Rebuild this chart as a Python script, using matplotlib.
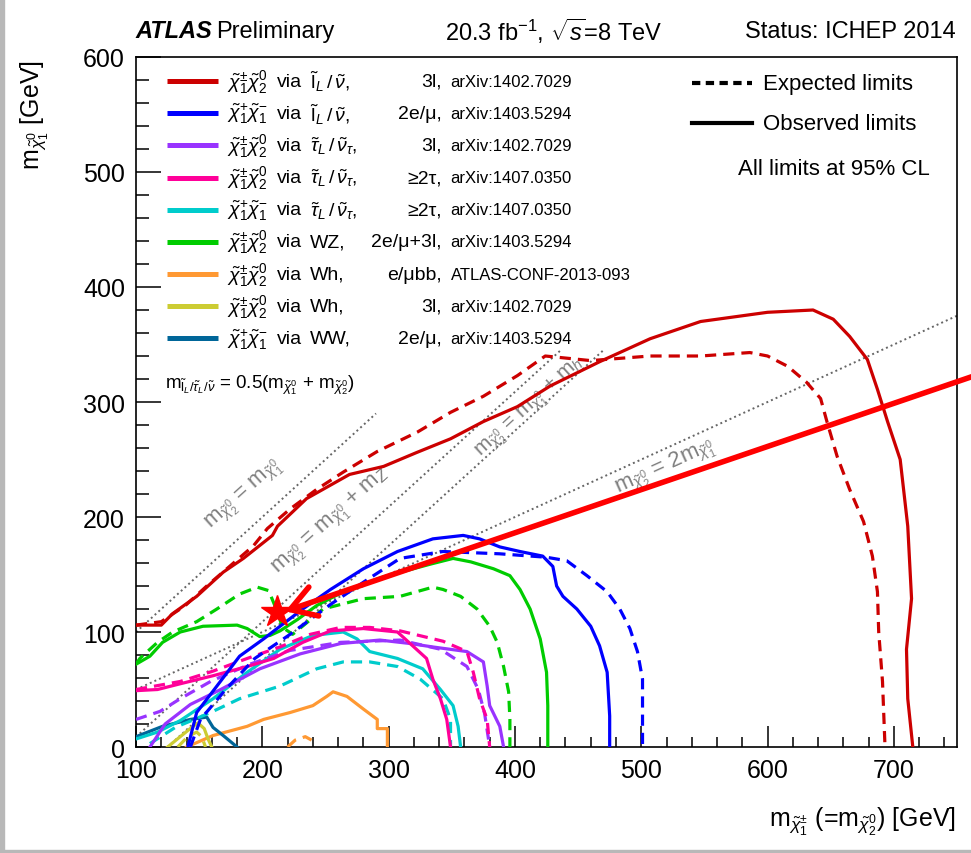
import matplotlib
matplotlib.use("Agg")
import matplotlib.pyplot as plt
from matplotlib.ticker import MultipleLocator
from matplotlib.lines import Line2D
from matplotlib.patches import Rectangle

plt.rcParams['font.family'] = ['Liberation Sans', 'DejaVu Sans']
plt.rcParams['mathtext.fontset'] = 'custom'
plt.rcParams['mathtext.rm'] = 'Liberation Sans'
plt.rcParams['mathtext.it'] = 'Liberation Sans:italic'
plt.rcParams['mathtext.bf'] = 'Liberation Sans:bold'

# ---- exclusion contours (GeV) ----
red_obs_x = [100, 120, 129, 148, 169, 185, 208, 212, 235, 269, 296, 322, 349, 375, 402, 428, 467, 507, 547,
             600, 636, 652, 665, 679, 687, 695, 705, 711, 714, 710, 711, 715]
red_obs_y = [106, 106, 116, 131, 152, 164, 184, 192, 216, 237, 244, 256, 268, 283, 296, 314, 335, 355, 370,
             378, 380, 372, 357, 337, 311, 283, 250, 192, 129, 85, 42, 0]
red_exp_x = [100, 120, 139, 156, 174, 193, 204, 222, 243, 264, 291, 323, 349, 375, 402, 424, 460, 507, 547,
             586, 600, 616, 631, 642, 647, 655, 665, 676, 683, 687, 688, 691, 693]
red_exp_y = [106, 109, 123, 140, 157, 175, 190, 207, 224, 239, 257, 274, 291, 305, 323, 340, 336, 340, 340,
             343, 340, 331, 317, 303, 283, 253, 224, 196, 166, 135, 100, 57, 0]

blue_obs_x = [141, 148, 164, 182, 201, 214, 232, 254, 280, 307, 335, 359, 372, 388, 404, 422, 430, 433, 438,
              449, 460, 467, 473, 475, 475]
blue_obs_y = [0, 30, 53, 79, 94, 105, 120, 137, 155, 170, 181, 184, 181, 174, 170, 166, 157, 140, 131,
              120, 105, 88, 65, 27, 0]
blue_exp_x = [143, 151, 171, 194, 222, 254, 281, 309, 343, 388, 425, 441, 457, 473, 483, 491, 497, 501, 501, 501]
blue_exp_y = [0, 24, 50, 77, 98, 124, 144, 164, 170, 168, 165, 162, 149, 135, 120, 103, 83, 59, 30, 0]

purple_obs_x = [111, 123, 143, 167, 198, 230, 262, 293, 317, 335, 362, 375, 378, 380, 388, 391]
purple_obs_y = [0, 20, 37, 50, 68, 81, 90, 93, 90, 87, 83, 74, 53, 36, 18, 0]
purple_exp_x = [100, 119, 135, 159, 190, 222, 262, 309, 341, 362, 371, 376, 380]
purple_exp_y = [24, 31, 42, 57, 72, 84, 91, 93, 85, 70, 50, 29, 0]

pink_obs_x = [100, 117, 135, 161, 188, 209, 232, 254, 280, 307, 319, 330, 335, 341, 346, 349]
pink_obs_y = [49, 50, 55, 62, 70, 77, 91, 101, 103, 100, 88, 77, 59, 42, 24, 0]
pink_exp_x = [100, 135, 161, 188, 214, 238, 262, 285, 309, 343, 362, 367, 372, 378, 380]
pink_exp_y = [50, 57, 66, 77, 87, 98, 104, 104, 101, 92, 83, 65, 42, 24, 0]

cyan_obs_x = [100, 117, 135, 161, 188, 214, 240, 264, 275, 285, 307, 327, 341, 351, 355, 357]
cyan_obs_y = [7, 13, 23, 42, 65, 85, 97, 100, 94, 83, 77, 68, 50, 36, 18, 0]
cyan_exp_x = [111, 131, 159, 182, 214, 243, 264, 285, 307, 325, 343, 349, 349]
cyan_exp_y = [3, 17, 30, 42, 53, 68, 74, 74, 70, 59, 42, 24, 0]

green_obs_x = [100, 111, 121, 135, 153, 180, 188, 198, 206, 214, 228, 243, 264, 296, 333, 351, 365, 383,
               396, 404, 412, 420, 425, 426, 426]
green_obs_y = [72, 79, 91, 100, 105, 106, 103, 96, 97, 101, 111, 123, 135, 148, 159, 164, 161, 155,
               149, 137, 120, 94, 65, 36, 0]
green_exp_x = [100, 103, 117, 129, 148, 164, 182, 196, 205, 211, 216, 224, 234, 248, 280, 309, 335, 343,
               357, 370, 380, 386, 391, 395, 396, 396]
green_exp_y = [72, 77, 91, 100, 109, 120, 133, 139, 136, 120, 104, 98, 107, 120, 129, 131, 139, 137,
               131, 120, 105, 91, 70, 48, 24, 0]

orange_obs_x = [140, 161, 188, 201, 222, 240, 251, 256, 267, 280, 291, 291, 299, 299]
orange_obs_y = [0, 10, 18, 24, 30, 36, 44, 48, 44, 33, 24, 16, 16, 0]
orange_exp_x = [220, 226, 234, 239]
orange_exp_y = [0, 6, 9, 6]

olive_obs_x = [125, 135, 144, 149, 154, 157, 160]
olive_obs_y = [0, 9, 17, 21, 16, 7, 0]
olive_exp_x = [133, 141, 148, 152, 155]
olive_exp_y = [0, 9, 13, 9, 0]

teal_obs_x = [100, 121, 143, 156, 161, 169, 180]
teal_obs_y = [9, 18, 24, 26, 17, 10, 0]

# kinematic boundaries
m_Z = 91.2
m_h = 125.0

# highlighted point and arrow
star_x, star_y = 212, 117
arrow_from = (775, 327)
arrow_to = (218, 118)

# legend entries
leg_particles = [r"$\tilde{\chi}_1^{\pm}\tilde{\chi}_2^0$", r"$\tilde{\chi}_1^{+}\tilde{\chi}_1^{-}$",
                 r"$\tilde{\chi}_1^{\pm}\tilde{\chi}_2^0$", r"$\tilde{\chi}_1^{\pm}\tilde{\chi}_2^0$",
                 r"$\tilde{\chi}_1^{+}\tilde{\chi}_1^{-}$", r"$\tilde{\chi}_1^{\pm}\tilde{\chi}_2^0$",
                 r"$\tilde{\chi}_1^{\pm}\tilde{\chi}_2^0$", r"$\tilde{\chi}_1^{\pm}\tilde{\chi}_2^0$",
                 r"$\tilde{\chi}_1^{+}\tilde{\chi}_1^{-}$"]
leg_decays = [r"$\tilde{\mathrm{l}}_L\,/\,\tilde{\nu}$,", r"$\tilde{\mathrm{l}}_L\,/\,\tilde{\nu}$,",
              r"$\tilde{\tau}_L\,/\,\tilde{\nu}_\tau$,", r"$\tilde{\tau}_L\,/\,\tilde{\nu}_\tau$,",
              r"$\tilde{\tau}_L\,/\,\tilde{\nu}_\tau$,", "WZ,", "Wh,", "Wh,", "WW,"]
leg_channels = ["3l,", "2e/μ,", "3l,", "≥2τ,", "≥2τ,", "2e/μ+3l,", "e/μbb,", "3l,", "2e/μ,"]
leg_refs = ["arXiv:1402.7029", "arXiv:1403.5294", "arXiv:1402.7029", "arXiv:1407.0350", "arXiv:1407.0350",
            "arXiv:1403.5294", "ATLAS-CONF-2013-093", "arXiv:1402.7029", "arXiv:1403.5294"]
leg_colors = ['#cc0000', '#0000ff', '#9933ff', '#ff0099', '#00cccc', '#00cc00', '#ff9933', '#cccc33', '#006699']

fig = plt.figure(figsize=(9.71, 8.54), dpi=100)
ax = fig.add_axes([0.1401, 0.1241, 0.8455, 0.8080])
ax.set_xlim(100, 750)
ax.set_ylim(0, 600)

lw = 2.3
dash = (0, (3.5, 2.2))
c_red, c_blue, c_purple, c_pink, c_cyan, c_green, c_orange, c_olive, c_teal = leg_colors

# dotted kinematic lines
dot_kw = dict(color='#666666', lw=1.4, ls=(0, (1, 1.6)), zorder=1)
ax.plot([100, 290], [100, 290], **dot_kw)
ax.plot([100, 436], [100 - m_Z, 436 - m_Z], **dot_kw)
ax.plot([m_h, 470], [0, 470 - m_h], **dot_kw)
ax.plot([100, 750], [50, 375], **dot_kw)

curves = [
    (orange_obs_x, orange_obs_y, c_orange, '-'), (orange_exp_x, orange_exp_y, c_orange, dash),
    (olive_obs_x, olive_obs_y, c_olive, '-'), (olive_exp_x, olive_exp_y, c_olive, dash),
    (teal_obs_x, teal_obs_y, c_teal, '-'),
    (cyan_exp_x, cyan_exp_y, c_cyan, dash), (cyan_obs_x, cyan_obs_y, c_cyan, '-'),
    (purple_exp_x, purple_exp_y, c_purple, dash), (purple_obs_x, purple_obs_y, c_purple, '-'),
    (pink_exp_x, pink_exp_y, c_pink, dash), (pink_obs_x, pink_obs_y, c_pink, '-'),
    (green_exp_x, green_exp_y, c_green, dash), (green_obs_x, green_obs_y, c_green, '-'),
    (blue_exp_x, blue_exp_y, c_blue, dash), (blue_obs_x, blue_obs_y, c_blue, '-'),
    (red_exp_x, red_exp_y, c_red, dash), (red_obs_x, red_obs_y, c_red, '-'),
]
for xs, ys, c, ls in curves:
    ax.plot(xs, ys, color=c, lw=lw, ls=ls, zorder=3)

# labels of the kinematic lines
lab_kw = dict(color='#7f7f7f', fontsize=16, ha='center', va='center', rotation_mode='anchor', zorder=2)
ax.text(186, 220, r"m$_{\tilde{\chi}_2^0}$ = m$_{\tilde{\chi}_1^0}$", rotation=42, **lab_kw)
ax.text(255, 197, r"m$_{\tilde{\chi}_2^0}$ = m$_{\tilde{\chi}_1^0}$ + m$_Z$", rotation=42, **lab_kw)
ax.text(412, 295, r"m$_{\tilde{\chi}_2^0}$ = m$_{\tilde{\chi}_1^0}$ + m$_h$", rotation=42.5,
        **dict(lab_kw, fontsize=15))
ax.text(519, 244, r"m$_{\tilde{\chi}_2^0}$ = 2m$_{\tilde{\chi}_1^0}$", rotation=24.5, **lab_kw)
ax.text(0.035, 0.526, r"m$_{\tilde{\mathrm{l}}_L/\tilde{\tau}_L/\tilde{\nu}}$ = 0.5(m$_{\tilde{\chi}_1^0}$ + m$_{\tilde{\chi}_2^0}$)",
        transform=ax.transAxes, fontsize=13.5, va='center', ha='left')

# red arrow and star
ax.annotate('', xy=arrow_to, xytext=arrow_from, annotation_clip=False,
            arrowprops=dict(arrowstyle='->,head_length=0.9,head_width=0.55', color='#ff0000', lw=4,
                            mutation_scale=20, shrinkA=0, shrinkB=0), zorder=6)
ax.plot(star_x, star_y, marker='*', ms=24, color='#ff0000', mec='#ff0000', zorder=7)

# legend (left block)
row_y = [0.965 - 0.0466 * i for i in range(len(leg_colors))]
for i, fy in enumerate(row_y):
    ax.add_line(Line2D([0.038, 0.100], [fy, fy], transform=ax.transAxes, color=leg_colors[i],
                       lw=3.6, solid_capstyle='butt'))
    ax.text(0.111, fy, leg_particles[i], transform=ax.transAxes, fontsize=14, va='center')
    ax.text(0.172, fy, "via", transform=ax.transAxes, fontsize=14, va='center')
    ax.text(0.212, fy, leg_decays[i], transform=ax.transAxes, fontsize=14, va='center')
    ax.text(0.372, fy, leg_channels[i], transform=ax.transAxes, fontsize=14, va='center', ha='right')
    ax.text(0.383, fy, leg_refs[i], transform=ax.transAxes, fontsize=12, va='center')

# legend (right block)
ax.add_line(Line2D([0.677, 0.750], [0.962, 0.962], transform=ax.transAxes, color='black', lw=3,
                   ls=(0, (2, 1.3))))
ax.add_line(Line2D([0.677, 0.750], [0.904, 0.904], transform=ax.transAxes, color='black', lw=3))
ax.text(0.764, 0.962, "Expected limits", transform=ax.transAxes, fontsize=16, va='center')
ax.text(0.764, 0.904, "Observed limits", transform=ax.transAxes, fontsize=16, va='center')
ax.text(0.967, 0.838, "All limits at 95% CL", transform=ax.transAxes, fontsize=16, va='center', ha='right')

# axes style
ax.set_xticks(range(100, 701, 100))
ax.set_yticks(range(0, 601, 100))
ax.xaxis.set_minor_locator(MultipleLocator(20))
ax.yaxis.set_minor_locator(MultipleLocator(20))
ax.tick_params(which='both', direction='in', top=False, right=False, labelsize=18, width=1.1)
ax.tick_params(axis='x', which='major', length=15, pad=8)
ax.tick_params(axis='x', which='minor', length=7.5)
ax.tick_params(axis='y', which='major', length=18, pad=8)
ax.tick_params(axis='y', which='minor', length=9)
for s in ax.spines.values():
    s.set_linewidth(1.2)

fig.text(0.036, 0.93, r"m$_{\tilde{\chi}_1^0}$ [GeV]", rotation=90, fontsize=18, ha='center', va='top')
fig.text(0.984, 0.038, r"m$_{\tilde{\chi}_1^{\pm}}$ (=m$_{\tilde{\chi}_2^0}$) [GeV]", fontsize=18,
         ha='right', va='center')

# header
fig.text(0.140, 0.963, "ATLAS", fontsize=17, weight='bold', style='italic', va='center')
fig.text(0.223, 0.963, "Preliminary", fontsize=17, va='center')
fig.text(0.458, 0.963, r"20.3 fb$^{-1}$, $\sqrt{s}$=8 TeV", fontsize=17, va='center')
fig.text(0.984, 0.963, "Status: ICHEP 2014", fontsize=17, va='center', ha='right')

# grey frame edges of the screenshot
fig.patches.append(Rectangle((0, 0), 4 / 971, 1, transform=fig.transFigure, color='#b8b8b8', zorder=0))
fig.patches.append(Rectangle((0, 0), 1, 3 / 854, transform=fig.transFigure, color='#b8b8b8', zorder=0))

fig.savefig("out.png", dpi=100)
